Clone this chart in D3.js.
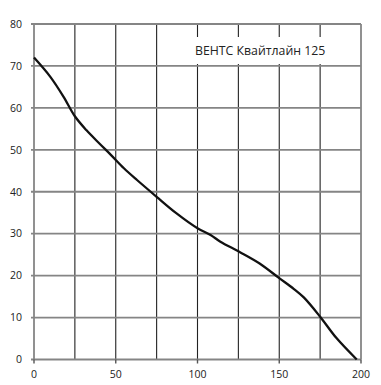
<!DOCTYPE html>
<html>
<head>
<meta charset="utf-8">
<script src="https://cdn.jsdelivr.net/npm/d3@7/dist/d3.min.js"></script>
<style>
  body { margin: 0; background: #fff; }
  svg { display: block; }
  text { font-family: "Open Sans", "DejaVu Sans", sans-serif; fill: #222; }
</style>
</head>
<body>
<script>
const flowX = [0, 10, 18, 25, 32, 40, 47, 55, 63, 75, 87, 100, 108, 114, 126, 138, 150, 159, 165, 175, 185, 197.4];
const pressureY = [72, 67.4, 62.7, 58, 54.7, 51.5, 48.8, 45.6, 42.8, 38.8, 34.9, 31.3, 29.7, 28.1, 25.6, 22.9, 19.4, 16.8, 14.8, 10.2, 5.1, 0];
const xTickLabels = [0, 50, 100, 150, 200];
const xGridValues = [0, 25, 50, 75, 100, 125, 150, 175, 200];
const yTickLabels = [0, 10, 20, 30, 40, 50, 60, 70, 80];
const seriesLabel = "ВЕНТС Квайтлайн 125";

const W = 381, H = 385;
const svg = d3.select("body").append("svg").attr("width", W).attr("height", H);

const x = d3.scaleLinear().domain([0, 200]).range([34, 361]);
const y = d3.scaleLinear().domain([0, 80]).range([359.5, 24]);

svg.append("g").selectAll("line").data(xGridValues.filter(v => v > 0 && v < 200)).join("line")
  .attr("x1", d => x(d)).attr("x2", d => x(d))
  .attr("y1", y(80)).attr("y2", y(0))
  .attr("stroke", "#222").attr("stroke-width", 1.1);

svg.append("g").selectAll("line").data(yTickLabels).join("line")
  .attr("x1", x(0) - 3).attr("x2", x(200))
  .attr("y1", d => y(d)).attr("y2", d => y(d))
  .attr("stroke", "#858585").attr("stroke-width", 1.8);

svg.append("g").selectAll("line").data([0, 200]).join("line")
  .attr("x1", d => x(d)).attr("x2", d => x(d))
  .attr("y1", y(80)).attr("y2", y(0))
  .attr("stroke", "#858585").attr("stroke-width", 1.8);

svg.append("g").selectAll("line").data(xTickLabels).join("line")
  .attr("x1", d => x(d)).attr("x2", d => x(d))
  .attr("y1", y(0)).attr("y2", y(0) + 4)
  .attr("stroke", "#555").attr("stroke-width", 1.4);

svg.append("g").selectAll("text").data(yTickLabels).join("text")
  .attr("x", 22).attr("y", d => y(d) + 3.8)
  .attr("text-anchor", "end").attr("font-size", 10.5)
  .text(d => d);

svg.append("g").selectAll("text").data(xTickLabels).join("text")
  .attr("x", d => x(d)).attr("y", 378)
  .attr("text-anchor", "middle").attr("font-size", 10.5)
  .text(d => d);

svg.append("rect").attr("x", 193).attr("y", 37).attr("width", 132).attr("height", 27).attr("fill", "#fff");
svg.append("text").attr("x", 195).attr("y", 55).attr("font-size", 12.3).text(seriesLabel);

const pts = flowX.map((v, i) => [v, pressureY[i]]);
svg.append("path").datum(pts)
  .attr("fill", "none").attr("stroke", "#111").attr("stroke-width", 2.3)
  .attr("d", d3.line().x(d => x(d[0])).y(d => y(d[1])).curve(d3.curveCatmullRom.alpha(0.5)));
</script>
</body>
</html>
